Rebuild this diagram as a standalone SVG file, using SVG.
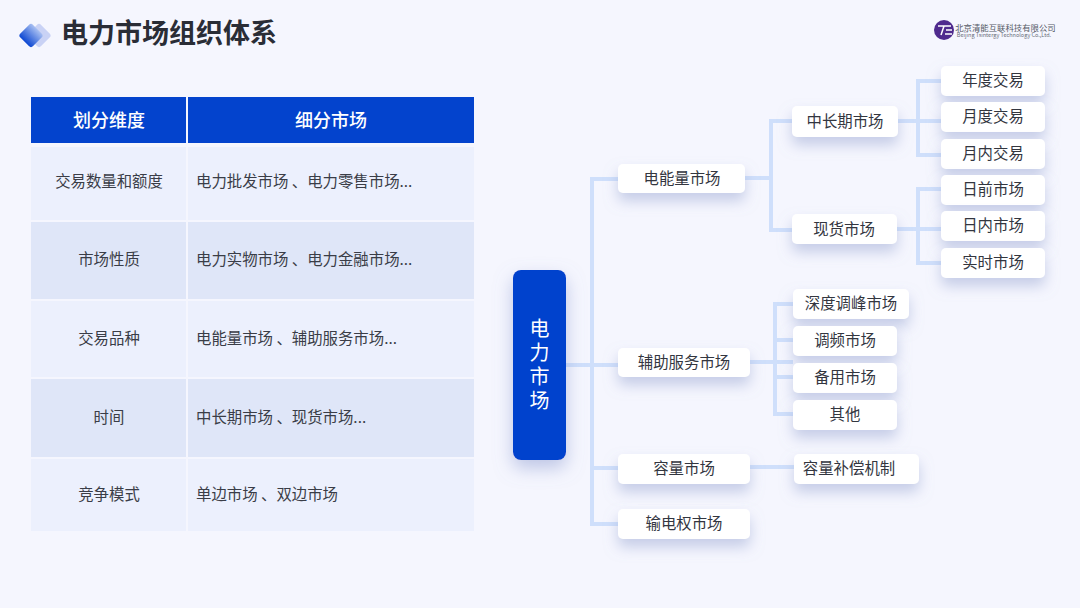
<svg xmlns="http://www.w3.org/2000/svg" width="1080" height="608" viewBox="0 0 1080 608">
<style>
text{font-family:"Noto Sans CJK SC","Noto Sans",sans-serif;text-anchor:middle;dominant-baseline:central}
.n rect{fill:#fff;filter:url(#sh)}
.n text{font-size:15.400px;fill:#33363f}
.c{font-size:15.400px;fill:#3a3d47}
.l{text-anchor:start}
.h{font-size:18px;font-weight:500;fill:#fff}
.a{fill:#ecf0fd}.b{fill:#dfe6f8}
#connectors path{fill:none;stroke:#cfdffb;stroke-width:4}
</style>
<defs>
<filter id="sh" x="-30%" y="-60%" width="160%" height="300%"><feDropShadow dx="0" dy="8" stdDeviation="7" flood-color="#95a3d0" flood-opacity=".5"/></filter>
<filter id="sh2" x="-60%" y="-20%" width="220%" height="140%"><feDropShadow dx="0" dy="8" stdDeviation="9" flood-color="#8494cc" flood-opacity=".5"/></filter>
<linearGradient id="g" x1="0" y1="0" x2="0" y2="1"><stop offset="0" stop-color="#a9c0f2"/><stop offset="1" stop-color="#0b46d2"/></linearGradient>
</defs>
<rect width="1080" height="608" fill="#f5f6fe"/>
<g id="title">
<rect x="-9" y="-9" width="18" height="18" rx="3" transform="translate(39 35.500) rotate(45)" fill="#c9d2f5"/>
<rect x="-9" y="-9" width="18" height="18" rx="3" transform="translate(31 35.500) rotate(45)" fill="url(#g)"/>
<text x="169" y="31.500" style="font-size:27px;font-weight:700;fill:#2a2d36">电力市场组织体系</text>
</g>
<g id="logo">
<circle cx="944" cy="30" r="10" fill="#4f2a8e"/>
<path d="M938 26h13M944 26l-3 9M946 30h6M945 34h7" stroke="#fff" stroke-width="1.500" fill="none"/>
<text x="1005.500" y="26.500" style="font-size:8.400px;fill:#555a66">北京清能互联科技有限公司</text>
<text x="1004" y="34.500" style="font-size:5.500px;fill:#666b76">Beijing Tsintergy Technology Co.,Ltd.</text>
</g>
<g id="table">
<rect x="31" y="97" width="155" height="46" fill="#0343cd"/>
<rect x="188" y="97" width="286" height="46" fill="#0343cd"/>
<text class="h" x="109" y="118.500">划分维度</text>
<text class="h" x="331" y="118.500">细分市场</text>
<rect class="a" x="31" y="147" width="155" height="73"/><rect class="a" x="188" y="147" width="286" height="73"/>
<rect class="b" x="31" y="222" width="155" height="77"/><rect class="b" x="188" y="222" width="286" height="77"/>
<rect class="a" x="31" y="301" width="155" height="76"/><rect class="a" x="188" y="301" width="286" height="76"/>
<rect class="b" x="31" y="379" width="155" height="78"/><rect class="b" x="188" y="379" width="286" height="78"/>
<rect class="a" x="31" y="459" width="155" height="72"/><rect class="a" x="188" y="459" width="286" height="72"/>
<text class="c" x="109" y="179.500">交易数量和额度</text>
<text class="c" x="109" y="257.500">市场性质</text>
<text class="c" x="109" y="336.500">交易品种</text>
<text class="c" x="109" y="415.500">时间</text>
<text class="c" x="109" y="492.500">竞争模式</text>
<text class="c l" x="196" y="179.500">电力批发市场 、电力零售市场...</text>
<text class="c l" x="196" y="257.500">电力实物市场 、电力金融市场...</text>
<text class="c l" x="196" y="336.500">电能量市场 、辅助服务市场...</text>
<text class="c l" x="196" y="415.500">中长期市场 、现货市场...</text>
<text class="c l" x="196" y="492.500">单边市场 、双边市场</text>
</g>
<g id="connectors">
<path d="M566 365H618M618 179H592V524H618M592 468H618"/>
<path d="M745 178H771M792 121H771V230H792"/>
<path d="M898 121H941M941 81H918V155H941"/>
<path d="M897 229H941M941 189H918V263H941"/>
<path d="M750 362H793M793 304H775V414H793M775 340H793M775 377H793"/>
<path d="M750 467H794"/>
</g>
<g id="root"><rect x="513" y="270" width="53" height="190" rx="8" fill="#0343cd" filter="url(#sh2)"/>
<text x="539.500" y="366" style="font-size:20px;fill:#fff;writing-mode:vertical-rl;letter-spacing:4px">电力市场</text></g>
<g id="n1" class="n"><rect x="618" y="164" width="127" height="29" rx="5"/><text x="682" y="176.500">电能量市场</text></g>
<g id="n2" class="n"><rect x="618" y="348" width="132" height="29" rx="5"/><text x="684" y="360.500">辅助服务市场</text></g>
<g id="n3" class="n"><rect x="618" y="454" width="132" height="30" rx="5"/><text x="684" y="466.500">容量市场</text></g>
<g id="n4" class="n"><rect x="618" y="509" width="132" height="30" rx="5"/><text x="684" y="521.500">输电权市场</text></g>
<g id="n5" class="n"><rect x="792" y="106" width="106" height="31" rx="5"/><text x="845" y="119.500">中长期市场</text></g>
<g id="n6" class="n"><rect x="792" y="214" width="105" height="30" rx="5"/><text x="844" y="227.500">现货市场</text></g>
<g id="n7" class="n"><rect x="941" y="66" width="104" height="30" rx="5"/><text x="993" y="78.500">年度交易</text></g>
<g id="n8" class="n"><rect x="941" y="102" width="104" height="30" rx="5"/><text x="993" y="115">月度交易</text></g>
<g id="n9" class="n"><rect x="941" y="139" width="104" height="30" rx="5"/><text x="993" y="151.500">月内交易</text></g>
<g id="n10" class="n"><rect x="941" y="175" width="104" height="30" rx="5"/><text x="993" y="187.500">日前市场</text></g>
<g id="n11" class="n"><rect x="941" y="211" width="104" height="30" rx="5"/><text x="993" y="224">日内市场</text></g>
<g id="n12" class="n"><rect x="941" y="248" width="104" height="30" rx="5"/><text x="993" y="260.500">实时市场</text></g>
<g id="n13" class="n"><rect x="793" y="289" width="116" height="30" rx="5"/><text x="851" y="301.500">深度调峰市场</text></g>
<g id="n14" class="n"><rect x="793" y="326" width="104" height="30" rx="5"/><text x="845" y="338.500">调频市场</text></g>
<g id="n15" class="n"><rect x="793" y="363" width="104" height="30" rx="5"/><text x="845" y="375.500">备用市场</text></g>
<g id="n16" class="n"><rect x="793" y="400" width="104" height="30" rx="5"/><text x="845" y="412.500">其他</text></g>
<g id="n17" class="n"><rect x="794" y="454" width="125" height="30" rx="5"/><text x="849" y="466.500">容量补偿机制</text></g>
</svg>
